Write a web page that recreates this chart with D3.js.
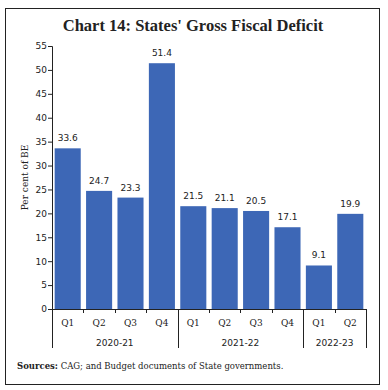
<!DOCTYPE html>
<html>
<head>
<meta charset="utf-8">
<script src="https://cdn.jsdelivr.net/npm/d3@7"></script>
<style>
  body { margin: 0; background: #fff; }
  .tick text { font-family: "DejaVu Sans", sans-serif; font-size: 9px; fill: #222; }
</style>
</head>
<body>
<div id="chart"></div>
<script>

var quarters = ["Q1", "Q2", "Q3", "Q4", "Q1", "Q2", "Q3", "Q4", "Q1", "Q2"];
var years = ["2020-21", "2020-21", "2020-21", "2020-21", "2021-22", "2021-22", "2021-22", "2021-22", "2022-23", "2022-23"];
var values = [33.6, 24.7, 23.3, 51.4, 21.5, 21.1, 20.5, 17.1, 9.1, 19.9];
var yTicks = [0, 5, 10, 15, 20, 25, 30, 35, 40, 45, 50, 55];

var W = 388, H = 390;
var margin = { left: 52, right: 22, top: 46, bottom: 81 };

var svg = d3.select("#chart")
    .append("svg")
    .attr("width", W)
    .attr("height", H);

// frame
svg.append("rect")
    .attr("x", 5.5).attr("y", 8.5)
    .attr("width", 374).attr("height", 376)
    .attr("fill", "none")
    .attr("stroke", "#222")
    .attr("stroke-width", 1);

svg.append("text")
    .attr("x", 193)
    .attr("y", 31)
    .attr("text-anchor", "middle")
    .style("font-family", "'Liberation Serif', serif")
    .style("font-weight", "bold")
    .style("font-size", "16.5px")
    .style("fill", "#222")
    .text("Chart 14: States' Gross Fiscal Deficit");

var width = W - margin.left - margin.right;
var height = H - margin.top - margin.bottom;

var g = svg.append("g")
    .attr("transform", "translate(" + margin.left + "," + margin.top + ")");

var idx = d3.range(values.length);

var xScale = d3.scaleBand()
    .domain(idx)
    .range([0, width])
    .paddingInner(0.17)
    .paddingOuter(0.085);

var yScale = d3.scaleLinear()
    .domain([0, 55])
    .range([height, 0]);

var yAxis = d3.axisLeft(yScale)
    .tickValues(yTicks)
    .tickSize(4)
    .tickPadding(1);

g.append("g")
    .attr("class", "axis")
    .call(yAxis)
    .call(function(a){ a.select(".domain").attr("stroke", "#222"); a.selectAll("line").attr("stroke", "#222"); });

g.selectAll(".bar")
    .data(idx).enter()
    .append("rect")
    .attr("class", "bar")
    .attr("x", function(i){ return xScale(i); })
    .attr("width", xScale.bandwidth())
    .attr("y", function(i){ return yScale(values[i]); })
    .attr("height", function(i){ return height - yScale(values[i]); })
    .attr("fill", "#3d67b6");

g.selectAll(".val")
    .data(idx).enter()
    .append("text")
    .attr("class", "val")
    .attr("x", function(i){ return xScale(i) + xScale.bandwidth() / 2; })
    .attr("y", function(i){ return yScale(values[i]) - 7; })
    .attr("text-anchor", "middle")
    .style("font-family", "'DejaVu Sans', sans-serif")
    .style("font-size", "9px")
    .style("fill", "#222")
    .text(function(i){ return values[i]; });

// x axis line
g.append("line")
    .attr("x1", 0).attr("x2", width)
    .attr("y1", height + 0.5).attr("y2", height + 0.5)
    .attr("stroke", "#222");

var step = xScale.step();
var x0 = xScale(0) - xScale.paddingInner() * step / 2;

// small ticks between bars, long lines between year groups
idx.concat([values.length]).forEach(function(i){
    var xx = Math.round(x0 + i * step) + 0.5;
    var isGroup = i === 0 || i === values.length || years[i] !== years[i - 1];
    g.append("line")
        .attr("x1", xx).attr("x2", xx)
        .attr("y1", height)
        .attr("y2", height + (isGroup ? 39 : 4))
        .attr("stroke", "#222");
});

g.selectAll(".qlab")
    .data(idx).enter()
    .append("text")
    .attr("class", "qlab")
    .attr("x", function(i){ return xScale(i) + xScale.bandwidth() / 2; })
    .attr("y", height + 17)
    .attr("text-anchor", "middle")
    .style("font-family", "'DejaVu Serif', serif")
    .style("font-size", "9px")
    .style("fill", "#222")
    .text(function(i){ return quarters[i]; });

var groups = d3.groups(idx, function(i){ return years[i]; });
groups.forEach(function(gr){
    var items = gr[1];
    var cx = (xScale(items[0]) + xScale(items[items.length - 1]) + xScale.bandwidth()) / 2;
    g.append("text")
        .attr("x", cx)
        .attr("y", height + 37)
        .attr("text-anchor", "middle")
        .style("font-family", "'DejaVu Sans', sans-serif")
        .style("font-size", "9px")
        .style("fill", "#222")
        .text(gr[0]);
});

g.append("text")
    .attr("transform", "rotate(-90)")
    .attr("x", -height / 2)
    .attr("y", -24)
    .attr("text-anchor", "middle")
    .style("font-family", "'DejaVu Serif', serif")
    .style("font-size", "9px")
    .style("fill", "#222")
    .text("Per cent of BE");

var src = svg.append("text")
    .attr("x", 17)
    .attr("y", 369)
    .style("font-family", "'DejaVu Serif', serif")
    .style("font-size", "8.5px")
    .style("fill", "#222");
src.append("tspan").style("font-weight", "bold").text("Sources:");
src.append("tspan").text(" CAG; and Budget documents of State governments.");

</script>
</body>
</html>
